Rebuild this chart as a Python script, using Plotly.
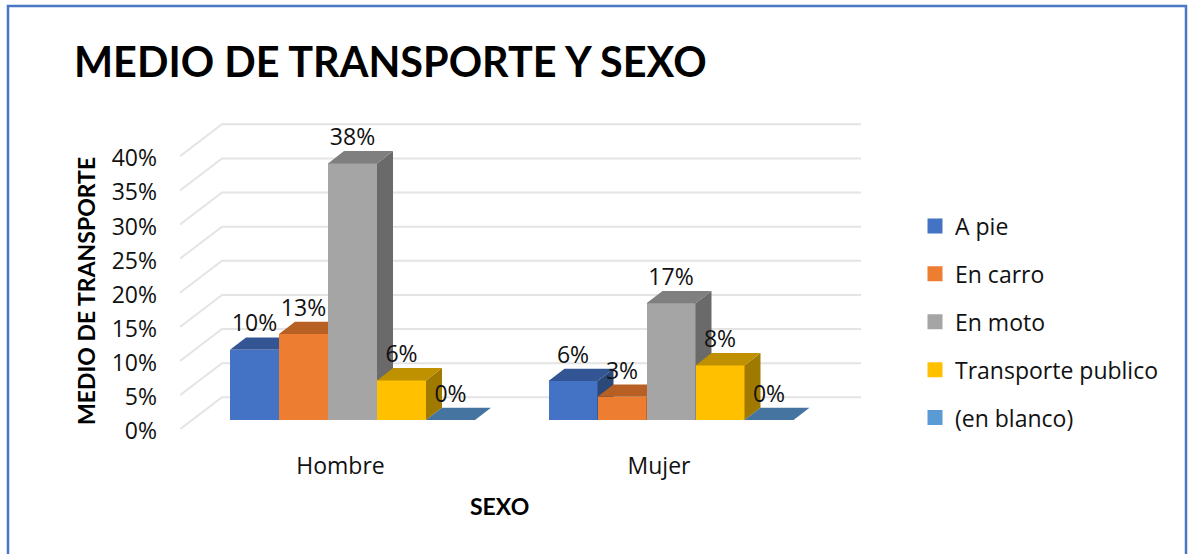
import plotly.graph_objects as go

CATEGORIES = ["Hombre", "Mujer"]
SERIES = ["A pie", "En carro", "En moto", "Transporte publico", "(en blanco)"]
A_PIE = [10.3, 5.7]
EN_CARRO = [12.6, 3.4]
EN_MOTO = [37.6, 17.1]
TRANSPORTE = [5.8, 8.0]
EN_BLANCO = [0.0, 0.0]
VALUES = [A_PIE, EN_CARRO, EN_MOTO, TRANSPORTE, EN_BLANCO]
Y_TICKS = [0, 5, 10, 15, 20, 25, 30, 35, 40]
FRONT = ["#4472c4", "#ed7d31", "#a5a5a5", "#ffc000", "#5b9bd5"]
TOP = ["#335593", "#b85f23", "#7f7f7f", "#bf9000", "#44749f"]
SIDE = ["#2a4878", "#96501c", "#6a6a6a", "#a07900", "#3a6488"]

FONT = "'Open Sans', sans-serif"
BOLD = "Lato, sans-serif"
INK = "#111111"
W, H = 1194, 554
PX_X = 318.5          # pixels per category step
PX_Y = 6.825          # pixels per percentage point
LEFT, RIGHT, TOP_PX, BOTTOM = 180, 861, 110, 429.3
X0 = (LEFT - 352.5) / PX_X
X1 = (RIGHT - 352.5) / PX_X
Y1 = (BOTTOM - TOP_PX) / PX_Y
WALL_DX, WALL_DY = 42 / PX_X, 32 / PX_Y
BAR_DX, BAR_DY = 16 / PX_X, 12.3 / PX_Y
BAR_W = 49 / PX_X
BASE = 9.3 / PX_Y
LABEL_UP = 24 / PX_Y

fig = go.Figure()

# floor / wall gridlines
gx, gy = [], []
for t in Y_TICKS:
    gx += [X0, X0 + WALL_DX, X1, None]
    gy += [t, t + WALL_DY, t + WALL_DY, None]
fig.add_trace(go.Scatter(x=gx, y=gy, mode="lines", line=dict(color="#e4e4e4", width=2),
                         showlegend=False, hoverinfo="skip"))

for i, (name, vals) in enumerate(zip(SERIES, VALUES)):
    ax = str(i + 2)
    xs = [c + (i - 2) * BAR_W for c in range(len(CATEGORIES))]
    fig.add_trace(go.Bar(x=xs, y=vals, base=BASE, width=BAR_W, name=name, showlegend=False,
                         marker=dict(color=FRONT[i], line=dict(width=0)),
                         xaxis="x" + ax, yaxis="y" + ax, legendgroup=name,
                         hovertemplate=name + ": %{y:.0f}%<extra></extra>"))
    # empty bar trace: only supplies the larger legend swatch
    fig.add_trace(go.Bar(x=[None], y=[None], name=name, legendgroup=name,
                         marker=dict(color=FRONT[i], line=dict(width=3, color=FRONT[i])),
                         xaxis="x" + ax, yaxis="y" + ax, hoverinfo="skip"))
    tx, ty, sx, sy = [], [], [], []
    for x, v in zip(xs, vals):
        l, r = x - BAR_W / 2, x + BAR_W / 2
        t = BASE + v
        tx += [l, r, r + BAR_DX, l + BAR_DX, l, None]
        ty += [t, t, t + BAR_DY, t + BAR_DY, t, None]
        sx += [r, r + BAR_DX, r + BAR_DX, r, r, None]
        sy += [BASE, BASE + BAR_DY, t + BAR_DY, t, BASE, None]
    if max(vals) > 0:
        fig.add_trace(go.Scatter(x=sx, y=sy, mode="lines", fill="toself", fillcolor=SIDE[i],
                                 line=dict(width=0), showlegend=False, hoverinfo="skip",
                                 xaxis="x" + ax, yaxis="y" + ax))
    fig.add_trace(go.Scatter(x=tx, y=ty, mode="lines", fill="toself", fillcolor=TOP[i],
                             line=dict(width=0), showlegend=False, hoverinfo="skip",
                             xaxis="x" + ax, yaxis="y" + ax))

# value labels on top of everything
last = str(len(SERIES) + 1)
for i, vals in enumerate(VALUES):
    xs = [c + (i - 2) * BAR_W for c in range(len(CATEGORIES))]
    fig.add_trace(go.Scatter(x=xs, y=[BASE + v + LABEL_UP for v in vals], mode="text",
                             text=[f"{v:.0f}%" for v in vals], textposition="middle center",
                             textfont=dict(family=FONT, size=23, color=INK),
                             showlegend=False, hoverinfo="skip",
                             xaxis="x" + last, yaxis="y" + last))

layout = dict(
    width=W, height=H, margin=dict(l=0, r=0, t=0, b=0, pad=0),
    paper_bgcolor="white", plot_bgcolor="white", bargap=0,
    font=dict(family=FONT, color=INK),
    title=dict(text="<b>MEDIO DE TRANSPORTE Y SEXO</b>", x=74 / W, xanchor="left", xref="paper",
               y=1 - 63 / H, yanchor="middle", automargin=False,
               font=dict(family=BOLD, size=41.4, color="#000000")),
    xaxis=dict(domain=[LEFT / W, RIGHT / W], range=[X0, X1], tickmode="array", automargin=False,
               tickvals=list(range(len(CATEGORIES))), ticktext=CATEGORIES, showgrid=False,
               zeroline=False, showline=False, ticks="", ticklabelshift=-12, ticklabelstandoff=21,
               tickfont=dict(family=FONT, size=23, color=INK)),
    yaxis=dict(domain=[1 - BOTTOM / H, 1 - TOP_PX / H], range=[0, Y1], tickmode="array",
               automargin=False, tickvals=Y_TICKS, ticktext=[f"{t}%" for t in Y_TICKS],
               showgrid=False, zeroline=False, showline=False, ticks="", ticklabelstandoff=22,
               ticklabelshift=2, tickfont=dict(family=FONT, size=23, color=INK)),
    legend=dict(x=915 / W, xanchor="left", y=1 - 322 / H, yanchor="middle", traceorder="grouped",
                tracegroupgap=15, bgcolor="rgba(0,0,0,0)",
                font=dict(family=FONT, size=23, color=INK)),
    shapes=[dict(type="rect", xref="paper", yref="paper", x0=8 / W, x1=1186 / W, y0=-0.05,
                 y1=1 - 6 / H, line=dict(color="#4a76c6", width=2.5), fillcolor="rgba(0,0,0,0)")],
    annotations=[
        dict(text="<b>MEDIO DE TRANSPORTE</b>", textangle=-90, xref="paper", yref="paper",
             x=86 / W, y=1 - 291 / H, showarrow=False, xanchor="center", yanchor="middle",
             font=dict(family=BOLD, size=23, color="#000000")),
        dict(text="<b>SEXO</b>", xref="paper", yref="paper", x=499 / W, y=1 - 506 / H,
             showarrow=False, xanchor="center", yanchor="middle",
             font=dict(family=BOLD, size=23, color="#000000")),
    ],
)
for i in range(len(SERIES)):
    n = str(i + 2)
    layout["xaxis" + n] = dict(overlaying="x", range=[X0, X1], visible=False, anchor="y" + n,
                               automargin=False)
    layout["yaxis" + n] = dict(overlaying="y", range=[0, Y1], visible=False, anchor="x" + n,
                               automargin=False)
fig.update_layout(**layout)

fig.write_html("out.html", config=dict(displayModeBar=False),
               post_script="document.body.style.margin='0';document.body.style.overflow='hidden';")
